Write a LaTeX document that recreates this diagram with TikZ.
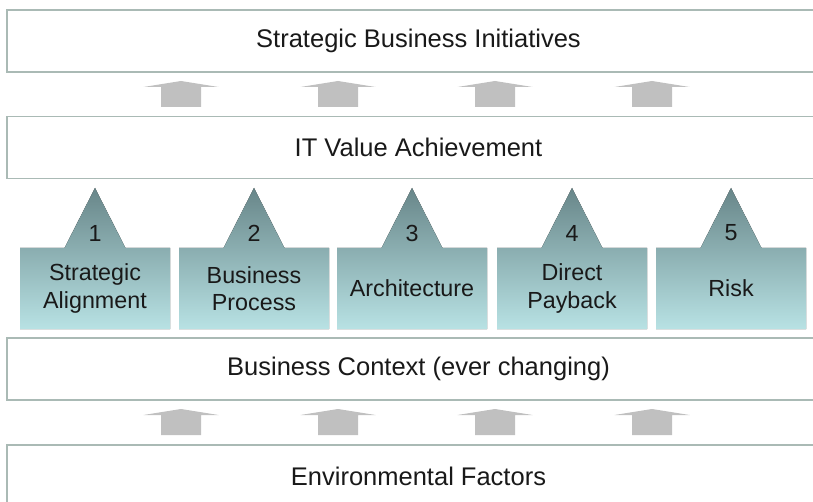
\documentclass[tikz,border=0pt]{standalone}
\usepackage{fontspec}
\setmainfont{Liberation Sans}
\definecolor{barline}{RGB}{170,186,181}
\definecolor{textcol}{RGB}{25,25,25}
\definecolor{arrowfill}{RGB}{192,192,192}
\definecolor{pillartop}{RGB}{104,134,137}
\definecolor{pillarbottom}{RGB}{184,226,228}
\begin{document}
\begin{tikzpicture}[x=1pt,y=-1pt,
  bar/.style={draw=barline, line width=1.3pt, fill=white,
    minimum width=823pt, minimum height=62pt, inner sep=0pt,
    font=\fontsize{25.5}{30}\selectfont, text=textcol},
  pillarlabel/.style={align=center, inner sep=0pt, text=textcol,
    font=\fontsize{23.3}{27.5}\selectfont},
  pillarshape/.style={top color=pillartop, bottom color=pillarbottom, draw=none},
  uparrow/.pic={
    \fill[arrowfill] (-20,26) -- (-20,6) -- (-37.5,6) -- (0,0)
      -- (37.5,6) -- (20,6) -- (20,26) -- cycle;
  }
]
\useasboundingbox (0,0) rectangle (813,502);
\clip (0,0) rectangle (813,502);
\fill[white] (0,0) rectangle (813,502);

% horizontal layers
\node[bar] (sbi) at (418.5,41)  {Strategic Business Initiatives};
\node[bar] (itv) at (418.5,147.5) {IT Value Achievement};
\node[bar] (ctx) at (418.5,369) {Business Context (ever changing)};
\node[bar] (env) at (418.5,476) {Environmental Factors};

% block arrows feeding the layers above
\foreach \cx in {181,338,495,652} {
  \pic at (\cx,81) {uparrow};
  \pic at (\cx,409) {uparrow};
}

% five value pillars
\foreach \i/\px/\lbl in {1/20/{Strategic\\Alignment},
                         2/179/{Business\\Process},
                         3/337/{Architecture},
                         4/497/{Direct\\Payback},
                         5/656/{Risk}} {
  \pgfmathsetmacro{\pc}{\px+75}
  \fill[pillarshape] (\px,329) -- (\px,248) -- (\pc-30.5,248) -- (\pc,188)
    -- (\pc+30.5,248) -- (\px+150,248) -- (\px+150,329) -- cycle;
  \node[pillarlabel] (n\i) at (\pc,233) {\i};
  \node[pillarlabel] (p\i) at (\pc,288.5) {\lbl};
}
\end{tikzpicture}
\end{document}
